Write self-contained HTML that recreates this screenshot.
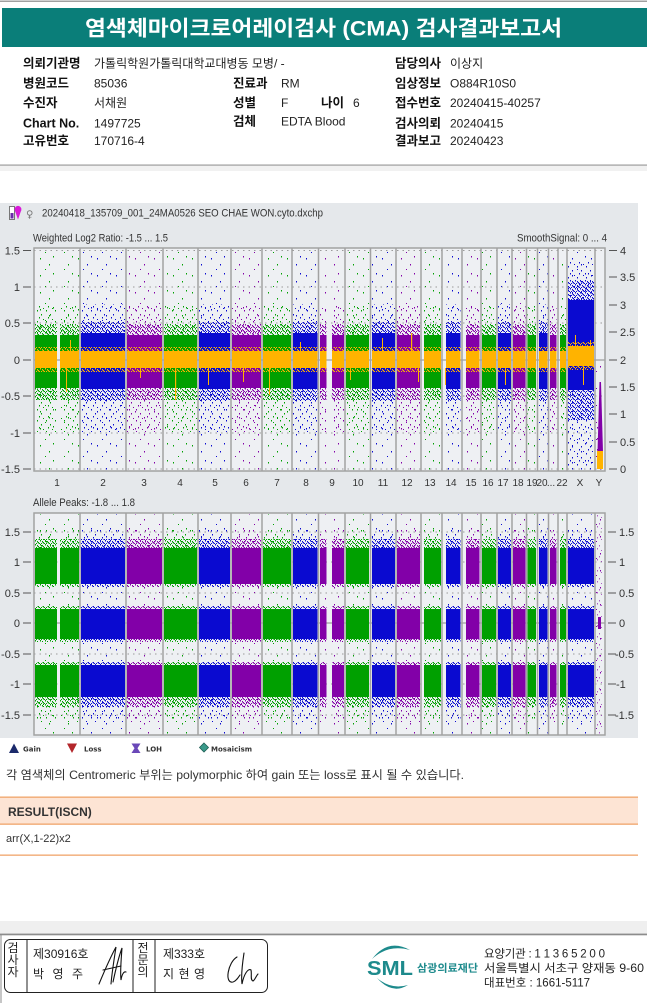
<!DOCTYPE html>
<html><head><meta charset="utf-8">
<style>
html,body{margin:0;padding:0;background:#fff;}
svg{display:block;}
.t{font-family:"Liberation Sans","Noto Sans CJK KR",sans-serif;}
.lb{font-family:"Liberation Sans","Noto Sans CJK KR",sans-serif;font-weight:bold;font-size:12.5px;fill:#111;}
.v{font-family:"Liberation Sans","Noto Sans CJK KR",sans-serif;font-size:12px;fill:#222;}
.ax{font-family:"Liberation Sans",sans-serif;font-size:11px;fill:#333;}
.axl{font-family:"Liberation Sans",sans-serif;font-size:11px;fill:#333;text-anchor:end;}
.ch{font-family:"Liberation Sans",sans-serif;font-size:10px;fill:#333;text-anchor:middle;}
.lg{font-family:"DejaVu Sans",sans-serif;font-size:7px;font-weight:bold;fill:#333;}
.ft{font-family:"Liberation Sans","Noto Sans CJK KR",sans-serif;font-size:12px;fill:#222;}
</style></head>
<body>
<svg width="647" height="1003" viewBox="0 0 647 1003" xmlns="http://www.w3.org/2000/svg">
<defs>
<g id="dA"><rect x="2" y="3" width="1" height="1.5"/><rect x="11" y="9" width="1" height="1.5"/><rect x="15" y="1" width="1" height="1.5"/><rect x="7" y="14" width="1" height="1"/></g>
<g id="dB"><rect x="1" y="2" width="1" height="1.5"/><rect x="5" y="6" width="1" height="1.5"/><rect x="7" y="0" width="1" height="1"/><rect x="3" y="9" width="1" height="1.5"/></g>
<g id="dC"><rect x="0" y="0" width="1" height="1.5"/><rect x="2" y="1" width="1" height="1.5"/><rect x="4" y="3" width="1" height="1"/><rect x="1" y="3" width="1" height="1"/><rect x="3" y="2" width="1" height="1.5"/></g>
<pattern id="aG" width="19" height="17" patternUnits="userSpaceOnUse"><use href="#dA" fill="#00a000"/></pattern>
<pattern id="bG" width="9" height="11" patternUnits="userSpaceOnUse"><use href="#dB" fill="#00a000"/></pattern>
<pattern id="cG" width="5" height="4" patternUnits="userSpaceOnUse"><use href="#dC" fill="#00a000"/></pattern>
<pattern id="aB" width="19" height="17" patternUnits="userSpaceOnUse"><use href="#dA" fill="#0a0ad0"/></pattern>
<pattern id="bB" width="9" height="11" patternUnits="userSpaceOnUse"><use href="#dB" fill="#0a0ad0"/></pattern>
<pattern id="cB" width="5" height="4" patternUnits="userSpaceOnUse"><use href="#dC" fill="#0a0ad0"/></pattern>
<pattern id="aP" width="19" height="17" patternUnits="userSpaceOnUse"><use href="#dA" fill="#8200a8"/></pattern>
<pattern id="bP" width="9" height="11" patternUnits="userSpaceOnUse"><use href="#dB" fill="#8200a8"/></pattern>
<pattern id="cP" width="5" height="4" patternUnits="userSpaceOnUse"><use href="#dC" fill="#8200a8"/></pattern>
<pattern id="pO" width="5" height="4" patternUnits="userSpaceOnUse"><use href="#dC" fill="#ffb300"/></pattern>

<clipPath id="kG">
<rect x="35" y="240" width="22" height="500"/><rect x="60" y="240" width="19" height="500"/><rect x="164" y="240" width="33" height="500"/><rect x="263" y="240" width="28" height="500"/><rect x="346" y="240" width="23" height="500"/><rect x="424" y="240" width="17" height="500"/><rect x="482" y="240" width="14" height="500"/><rect x="527.5" y="240" width="8.5" height="500"/><rect x="560" y="240" width="6" height="500"/>
</clipPath>
<clipPath id="kB">
<rect x="81" y="240" width="44" height="500"/><rect x="199" y="240" width="31" height="500"/><rect x="293" y="240" width="24.5" height="500"/><rect x="372" y="240" width="23" height="500"/><rect x="446" y="240" width="14.5" height="500"/><rect x="498" y="240" width="13" height="500"/><rect x="539" y="240" width="8.5" height="500"/><rect x="568" y="505" width="26" height="235"/>
</clipPath>
<clipPath id="kP">
<rect x="127" y="240" width="35" height="500"/><rect x="232" y="240" width="29" height="500"/><rect x="320" y="240" width="6.5" height="500"/><rect x="332" y="240" width="12" height="500"/><rect x="397" y="240" width="23" height="500"/><rect x="466" y="240" width="13.5" height="500"/><rect x="513" y="240" width="12.5" height="500"/><rect x="550" y="240" width="6.5" height="500"/>
</clipPath>
<clipPath id="kX"><rect x="568" y="248" width="26" height="223"/></clipPath>
</defs>

<!-- top line -->
<rect x="0" y="0.5" width="647" height="1.5" fill="#a0a0a0"/>
<!-- banner -->
<rect x="2" y="8" width="645" height="39" fill="#0a7e79"/>
<text class="t" x="85" y="35.5" font-size="21" font-weight="bold" fill="#fff" textLength="477" lengthAdjust="spacingAndGlyphs">염색체마이크로어레이검사 (CMA) 검사결과보고서</text>

<!-- info rows -->
<text class="lb" x="23" y="67.5">의뢰기관명</text><text class="v" x="94" y="67.5">가톨릭학원가톨릭대학교대병동 모병/ -</text>
<text class="lb" x="395" y="67.5">담당의사</text><text class="v" x="450" y="67.5">이상지</text>

<text class="lb" x="23" y="87.5">병원코드</text><text class="v" x="94" y="87.5">85036</text>
<text class="lb" x="233" y="87.5">진료과</text><text class="v" x="281" y="87.5">RM</text>
<text class="lb" x="395" y="87.5">임상정보</text><text class="v" x="450" y="87.5">O884R10S0</text>

<text class="lb" x="23" y="107">수진자</text><text class="v" x="94" y="107">서채원</text>
<text class="lb" x="233" y="107">성별</text><text class="v" x="281" y="107">F</text>
<text class="lb" x="321" y="107">나이</text><text class="v" x="353" y="107">6</text>
<text class="lb" x="395" y="107">접수번호</text><text class="v" x="450" y="107">20240415-40257</text>

<text class="lb" x="23" y="127.5">Chart No.</text><text class="v" x="94" y="127.5">1497725</text>
<text class="lb" x="233" y="125.5">검체</text><text class="v" x="281" y="125.5">EDTA Blood</text>
<text class="lb" x="395" y="127.5">검사의뢰</text><text class="v" x="450" y="127.5">20240415</text>

<text class="lb" x="23" y="145">고유번호</text><text class="v" x="94" y="145">170716-4</text>
<text class="lb" x="395" y="145">결과보고</text><text class="v" x="450" y="145">20240423</text>

<rect x="0" y="164.5" width="647" height="1.2" fill="#9a9a9a"/>
<rect x="0" y="166" width="647" height="5" fill="#f1f1f1"/>

<!-- CHART -->
<rect x="0" y="203" width="638" height="535" fill="#e5e8eb"/>
<rect x="9.5" y="206.5" width="5" height="13" fill="#fff" stroke="#777" stroke-width="1"/>
<rect x="10.5" y="213" width="3" height="5.5" fill="#6a2aa8"/>
<path d="M18,219.5 L15.2,211.5 A3.4,3.6 0 1 1 20.8,211.5 Z" fill="#d81ad8"/>
<text x="26" y="217.5" font-family="DejaVu Sans,sans-serif" font-size="10" fill="#777">♀</text>
<text class="ax" x="42" y="216.5" font-size="10" fill="#222" textLength="281" lengthAdjust="spacingAndGlyphs">20240418_135709_001_24MA0526 SEO CHAE WON.cyto.dxchp</text>

<text class="ax" x="33" y="241.5" fill="#222" textLength="135" lengthAdjust="spacingAndGlyphs">Weighted Log2 Ratio: -1.5 ... 1.5</text>
<text class="ax" x="517" y="241.5" fill="#222" textLength="90" lengthAdjust="spacingAndGlyphs">SmoothSignal: 0 ... 4</text>
<text class="ax" x="33" y="506" fill="#222" textLength="102" lengthAdjust="spacingAndGlyphs">Allele Peaks: -1.8 ... 1.8</text>

<rect x="34" y="248" width="571" height="223" fill="#eef0f3"/>
<rect x="34" y="513" width="571" height="222" fill="#eef0f3"/>

<g stroke="#9a9a9a" stroke-width="1" stroke-dasharray="1.5 4">
<line x1="34" y1="250.5" x2="605" y2="250.5"/><line x1="34" y1="287" x2="605" y2="287"/><line x1="34" y1="323" x2="605" y2="323"/><line x1="34" y1="396" x2="605" y2="396"/><line x1="34" y1="433" x2="605" y2="433"/><line x1="34" y1="469" x2="605" y2="469"/>
<line x1="34" y1="532" x2="605" y2="532"/><line x1="34" y1="562" x2="605" y2="562"/><line x1="34" y1="593" x2="605" y2="593"/><line x1="34" y1="654" x2="605" y2="654"/><line x1="34" y1="684" x2="605" y2="684"/><line x1="34" y1="715" x2="605" y2="715"/>
</g>
<g stroke="#8a8a8a" stroke-width="1">
<line x1="34" y1="360" x2="605" y2="360"/><line x1="34" y1="623" x2="605" y2="623"/>
</g>

<!-- GREEN -->
<g clip-path="url(#kG)">
<rect x="30" y="251" width="580" height="219" fill="url(#aG)"/>
<rect x="30" y="306" width="580" height="29" fill="url(#bG)"/>
<rect x="30" y="388" width="580" height="44" fill="url(#bG)"/>
<rect x="30" y="324" width="580" height="11" fill="url(#cG)"/>
<rect x="30" y="388" width="580" height="12" fill="url(#cG)"/>
<rect x="30" y="335" width="580" height="53" fill="#00a000"/>
<rect x="30" y="351" width="580" height="17" fill="#ffb300"/><rect x="30" y="347" width="580" height="4" fill="url(#pO)"/><rect x="30" y="368" width="580" height="4" fill="url(#pO)"/>
<rect x="30" y="514" width="580" height="220" fill="url(#aG)"/>
<rect x="30" y="529" width="580" height="19" fill="url(#bG)"/>
<rect x="30" y="697" width="580" height="25" fill="url(#bG)"/>
<rect x="30" y="539" width="580" height="9" fill="url(#cG)"/>
<rect x="30" y="697" width="580" height="10" fill="url(#cG)"/>
<rect x="30" y="584" width="580" height="3" fill="url(#cG)"/>
<rect x="30" y="606" width="580" height="3" fill="url(#cG)"/>
<rect x="30" y="639" width="580" height="3" fill="url(#cG)"/>
<rect x="30" y="662" width="580" height="3" fill="url(#cG)"/>
<rect x="30" y="548" width="580" height="36" fill="#00a000"/>
<rect x="30" y="609" width="580" height="30" fill="#00a000"/>
<rect x="30" y="665" width="580" height="32" fill="#00a000"/>
</g>
<!-- BLUE -->
<g clip-path="url(#kB)">
<rect x="30" y="251" width="580" height="219" fill="url(#aB)"/>
<rect x="30" y="304" width="580" height="31" fill="url(#bB)"/>
<rect x="30" y="388" width="580" height="44" fill="url(#bB)"/>
<rect x="30" y="322" width="580" height="12" fill="url(#cB)"/>
<rect x="30" y="389" width="580" height="12" fill="url(#cB)"/>
<rect x="30" y="333" width="580" height="56" fill="#0a0ad0"/>
<rect x="30" y="351" width="580" height="17" fill="#ffb300"/><rect x="30" y="347" width="580" height="4" fill="url(#pO)"/><rect x="30" y="368" width="580" height="4" fill="url(#pO)"/>
<rect x="30" y="514" width="580" height="220" fill="url(#aB)"/>
<rect x="30" y="529" width="580" height="19" fill="url(#bB)"/>
<rect x="30" y="697" width="580" height="25" fill="url(#bB)"/>
<rect x="30" y="539" width="580" height="9" fill="url(#cB)"/>
<rect x="30" y="697" width="580" height="10" fill="url(#cB)"/>
<rect x="30" y="584" width="580" height="3" fill="url(#cB)"/>
<rect x="30" y="606" width="580" height="3" fill="url(#cB)"/>
<rect x="30" y="639" width="580" height="3" fill="url(#cB)"/>
<rect x="30" y="662" width="580" height="3" fill="url(#cB)"/>
<rect x="30" y="548" width="580" height="36" fill="#0a0ad0"/>
<rect x="30" y="609" width="580" height="30" fill="#0a0ad0"/>
<rect x="30" y="665" width="580" height="32" fill="#0a0ad0"/>
</g>
<!-- PURPLE -->
<g clip-path="url(#kP)">
<rect x="30" y="251" width="580" height="219" fill="url(#aP)"/>
<rect x="30" y="306" width="580" height="29" fill="url(#bP)"/>
<rect x="30" y="388" width="580" height="44" fill="url(#bP)"/>
<rect x="30" y="324" width="580" height="11" fill="url(#cP)"/>
<rect x="30" y="388" width="580" height="12" fill="url(#cP)"/>
<rect x="30" y="335" width="580" height="53" fill="#8200a8"/>
<rect x="30" y="351" width="580" height="17" fill="#ffb300"/><rect x="30" y="347" width="580" height="4" fill="url(#pO)"/><rect x="30" y="368" width="580" height="4" fill="url(#pO)"/>
<rect x="30" y="514" width="580" height="220" fill="url(#aP)"/>
<rect x="30" y="529" width="580" height="19" fill="url(#bP)"/>
<rect x="30" y="697" width="580" height="25" fill="url(#bP)"/>
<rect x="30" y="539" width="580" height="9" fill="url(#cP)"/>
<rect x="30" y="697" width="580" height="10" fill="url(#cP)"/>
<rect x="30" y="584" width="580" height="3" fill="url(#cP)"/>
<rect x="30" y="606" width="580" height="3" fill="url(#cP)"/>
<rect x="30" y="639" width="580" height="3" fill="url(#cP)"/>
<rect x="30" y="662" width="580" height="3" fill="url(#cP)"/>
<rect x="30" y="548" width="580" height="36" fill="#8200a8"/>
<rect x="30" y="609" width="580" height="30" fill="#8200a8"/>
<rect x="30" y="665" width="580" height="32" fill="#8200a8"/>
</g>
<!-- X panel 1 -->
<g clip-path="url(#kX)">
<rect x="560" y="251" width="40" height="219" fill="url(#aB)"/>
<rect x="560" y="262" width="40" height="38" fill="url(#bB)"/>
<rect x="560" y="390" width="40" height="80" fill="url(#bB)"/>
<rect x="560" y="280" width="40" height="20" fill="url(#cB)"/>
<rect x="560" y="390" width="40" height="30" fill="url(#cB)"/>
<rect x="560" y="300" width="40" height="90" fill="#0a0ad0"/>
<rect x="560" y="346" width="40" height="20" fill="#ffb300"/>
<rect x="560" y="342" width="40" height="4" fill="url(#pO)"/><rect x="560" y="366" width="40" height="4" fill="url(#pO)"/>
</g>
<!-- Y chromosome -->
<rect x="596" y="358" width="8" height="112" fill="url(#aP)"/>
<rect x="596" y="420" width="8" height="35" fill="url(#bP)"/>
<path d="M599.5,382 L601,382 L603,452 L597.5,452 Z" fill="#8200a8"/>
<rect x="597" y="451" width="6" height="18" fill="#ffb300"/>
<rect x="596" y="514" width="8" height="220" fill="url(#aP)"/>
<rect x="596" y="514" width="8" height="220" fill="url(#bP)" opacity="0.6"/>
<rect x="598" y="617" width="3" height="12" fill="#8200a8"/>

<g fill="#ffb300">
<rect x="66" y="368" width="1" height="24"/><rect x="70" y="340" width="1" height="11"/><rect x="175" y="368" width="1.2" height="32"/><rect x="208" y="368" width="1" height="17"/><rect x="243" y="368" width="1" height="14"/><rect x="269" y="368" width="1" height="27"/><rect x="350" y="368" width="1" height="12"/><rect x="382" y="338" width="1" height="13"/><rect x="411" y="333" width="1.2" height="18"/><rect x="418" y="368" width="1" height="14"/><rect x="445" y="368" width="1" height="17"/><rect x="505" y="368" width="1" height="17"/><rect x="575" y="335" width="1" height="11"/><rect x="583" y="366" width="1" height="19"/><rect x="590" y="340" width="1" height="6"/><rect x="140" y="368" width="1" height="10"/><rect x="300" y="342" width="1" height="9"/>
</g>

<g stroke="#a2a2a2" stroke-width="1.5">
<rect x="34" y="248" width="571" height="223" fill="none"/>
<rect x="34" y="513" width="571" height="222" fill="none"/>
<path d="M80,248V471M126,248V471M163,248V471M198,248V471M231,248V471M262,248V471M292,248V471M318.5,248V471M345,248V471M370.5,248V471M396,248V471M421,248V471M442,248V471M462,248V471M481,248V471M497,248V471M512,248V471M526.5,248V471M537.5,248V471M548.5,248V471M558,248V471M567,248V471M595,248V471"/>
<path d="M80,513V735M126,513V735M163,513V735M198,513V735M231,513V735M262,513V735M292,513V735M318.5,513V735M345,513V735M370.5,513V735M396,513V735M421,513V735M442,513V735M462,513V735M481,513V735M497,513V735M512,513V735M526.5,513V735M537.5,513V735M548.5,513V735M558,513V735M567,513V735M595,513V735"/>
</g>

<g stroke="#555" stroke-width="1">
<path d="M23,250.5H31M23,287H31M23,323H31M23,360H31M23,396H31M23,433H31M23,469H31"/>
<path d="M609,250.5H617M609,277H617M609,305H617M609,332H617M609,360H617M609,387H617M609,414H617M609,442H617M609,469H617"/>
<path d="M23,532H31M23,562H31M23,593H31M23,623H31M23,654H31M23,684H31M23,715H31"/>
<path d="M608,532H616M608,562H616M608,593H616M608,623H616M608,654H616M608,684H616M608,715H616"/>
</g>
<text class="axl" x="20" y="254.5">1.5</text><text class="axl" x="20" y="291">1</text><text class="axl" x="20" y="327">0.5</text><text class="axl" x="20" y="364">0</text><text class="axl" x="20" y="400">-0.5</text><text class="axl" x="20" y="437">-1</text><text class="axl" x="20" y="473">-1.5</text>
<text class="axl" x="20" y="536">1.5</text><text class="axl" x="20" y="566">1</text><text class="axl" x="20" y="597">0.5</text><text class="axl" x="20" y="627">0</text><text class="axl" x="20" y="658">-0.5</text><text class="axl" x="20" y="688">-1</text><text class="axl" x="20" y="719">-1.5</text>
<text class="ax" x="620" y="254.5">4</text><text class="ax" x="620" y="281">3.5</text><text class="ax" x="620" y="309">3</text><text class="ax" x="620" y="336">2.5</text><text class="ax" x="620" y="364">2</text><text class="ax" x="620" y="391">1.5</text><text class="ax" x="620" y="418">1</text><text class="ax" x="620" y="446">0.5</text><text class="ax" x="620" y="473">0</text>
<text class="ax" x="619" y="536">1.5</text><text class="ax" x="619" y="566">1</text><text class="ax" x="619" y="597">0.5</text><text class="ax" x="619" y="627">0</text><text class="ax" x="615" y="658">-0.5</text><text class="ax" x="616" y="688">-1</text><text class="ax" x="615" y="719">-1.5</text>

<text class="ch" x="57" y="486">1</text><text class="ch" x="103" y="486">2</text><text class="ch" x="144" y="486">3</text><text class="ch" x="180" y="486">4</text><text class="ch" x="215" y="486">5</text><text class="ch" x="246" y="486">6</text><text class="ch" x="277" y="486">7</text><text class="ch" x="306" y="486">8</text><text class="ch" x="332" y="486">9</text><text class="ch" x="358" y="486">10</text><text class="ch" x="383" y="486">11</text><text class="ch" x="407" y="486">12</text><text class="ch" x="430" y="486">13</text><text class="ch" x="451" y="486">14</text><text class="ch" x="471" y="486">15</text><text class="ch" x="488" y="486">16</text><text class="ch" x="503" y="486">17</text><text class="ch" x="518" y="486">18</text><text class="ch" x="532" y="486">19</text><text class="ch" x="542" y="486">20</text><text class="ch" x="551" y="486">...</text><text class="ch" x="562" y="486">22</text><text class="ch" x="580" y="486">X</text><text class="ch" x="599" y="486">Y</text>

<polygon points="9,753 14,743.5 19,753" fill="#1b2a6b"/>
<text class="lg" x="23" y="751.5">Gain</text>
<polygon points="67,743.5 77,743.5 72,753" fill="#b3262b"/>
<text class="lg" x="84" y="751.5">Loss</text>
<polygon points="131.5,743.5 140.5,743.5 137.5,748.2 140.5,753 131.5,753 134.5,748.2" fill="#6a48b8"/>
<text class="lg" x="146" y="751.5">LOH</text>
<polygon points="204,743 208.5,747.5 204,752 199.5,747.5" fill="#3a9a8a" stroke="#1f5f55" stroke-width="0.8"/>
<text class="lg" x="211" y="751.5">Mosaicism</text>

<text class="t" x="6" y="779" font-size="12" fill="#333" textLength="458" lengthAdjust="spacingAndGlyphs">각 염색체의 Centromeric 부위는 polymorphic 하여 gain 또는 loss로 표시 될 수 있습니다.</text>

<rect x="0" y="797" width="638" height="27" fill="#fde4d4"/>
<rect x="0" y="796.5" width="638" height="1.3" fill="#f0a56a"/>
<rect x="0" y="823.5" width="638" height="1.3" fill="#f0a56a"/>
<text class="t" x="8" y="816" font-size="12" font-weight="bold" fill="#333">RESULT(ISCN)</text>
<text class="t" x="6" y="842" font-size="11" fill="#333">arr(X,1-22)x2</text>
<rect x="0" y="854.5" width="638" height="1.3" fill="#f0a56a"/>

<rect x="0" y="921" width="647" height="12" fill="#efefef"/>
<rect x="0" y="933.5" width="647" height="1.8" fill="#8c8c8c"/>
<rect x="0.5" y="935" width="1" height="68" fill="#8c8c8c"/>

<rect x="4.5" y="939.5" width="263" height="53" rx="6" ry="6" fill="none" stroke="#222" stroke-width="1"/>
<path d="M27,939.5V992.5M133,939.5V992.5M155,939.5V992.5" stroke="#222" stroke-width="1"/>
<text class="ft" x="13" y="952" text-anchor="middle">검</text><text class="ft" x="13" y="964" text-anchor="middle">사</text><text class="ft" x="13" y="976" text-anchor="middle">자</text>
<text class="ft" x="143" y="952" text-anchor="middle">전</text><text class="ft" x="143" y="964" text-anchor="middle">문</text><text class="ft" x="143" y="976" text-anchor="middle">의</text>
<text class="ft" x="33" y="958">제30916호</text>
<text class="ft" x="33" y="978" textLength="50" lengthAdjust="spacing">박 영 주</text>
<text class="ft" x="163" y="958" textLength="42" lengthAdjust="spacing">제333호</text>
<text class="ft" x="163" y="978" textLength="42" lengthAdjust="spacing">지 현 영</text>
<g fill="none" stroke="#111" stroke-width="1.1" stroke-linecap="round">
<path d="M99,984 C104,972 110,958 116,947 C114,960 112,972 111,984"/>
<path d="M103,970 L121,966"/>
<path d="M113,982 C116,968 119,956 122,948 C121,962 120,972 121,980 C122,974 124,971 126,972"/>
<path d="M237,957 C228,962 224,984 233,982 C236,981 238,978 240,975"/>
<path d="M244,953 C242,966 241,976 242,984 C244,974 248,968 251,970 C252,974 250,980 253,981 C255,980 256,976 258,974"/>
</g>

<path d="M372,959 Q388,938 410,950 Q388,944 372,959 Z" fill="#1d8a8c"/>
<path d="M377,978 Q392,995 408,985 Q391,990 377,978 Z" fill="#1d8a8c"/>
<text class="t" x="367" y="975" font-size="20" font-weight="bold" fill="#1d8a8c" textLength="46" lengthAdjust="spacingAndGlyphs">SML</text>
<text class="t" x="417" y="971.5" font-size="10.5" font-weight="bold" fill="#1d8a8c" textLength="61" lengthAdjust="spacingAndGlyphs">삼광의료재단</text>
<text class="t" x="484" y="957.5" font-size="11.5" fill="#222" textLength="121" lengthAdjust="spacing">요양기관 : 1 1 3 6 5 2 0 0</text>
<text class="t" x="484" y="972" font-size="11.5" fill="#222" textLength="160" lengthAdjust="spacingAndGlyphs">서울특별시 서초구 양재동 9-60</text>
<text class="t" x="484" y="986.5" font-size="11.5" fill="#222">대표번호 : 1661-5117</text>
</svg>
</body></html>
